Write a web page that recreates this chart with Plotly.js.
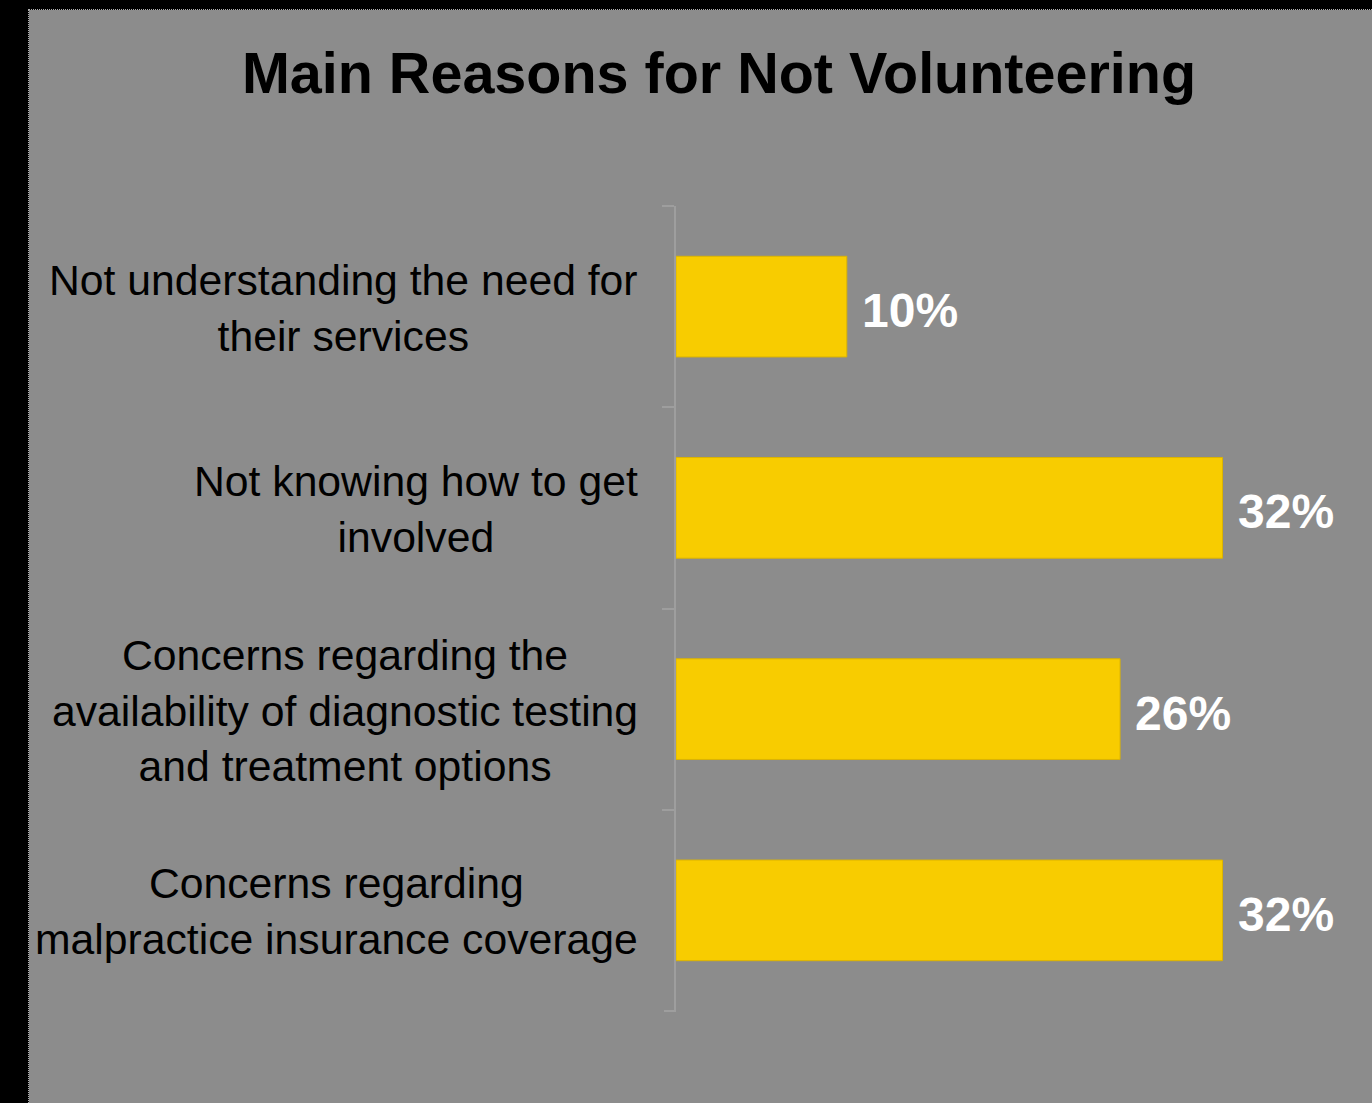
<!DOCTYPE html>
<html>
<head>
<meta charset="utf-8">
<script src="https://cdn.plot.ly/plotly-3.0.1.min.js"></script>
<style>
  html, body { margin: 0; padding: 0; background: #000; width: 1372px; height: 1103px; overflow: hidden; }
  #chart { position: absolute; left: 28px; top: 9px; width: 1344px; height: 1094px;
           border-left: 1px dotted #b0b0b0; border-top: 1px dotted #b0b0b0; box-sizing: border-box; }
</style>
</head>
<body>
<div id="chart"></div>
<script>
const categories = [
  "Not understanding the need for<br>their services",
  "Not knowing how to get<br>involved",
  "Concerns regarding the<br>availability of diagnostic testing<br>and treatment options",
  "Concerns regarding<br>malpractice insurance coverage"
];
const values = [10, 32, 26, 32];
const valueLabels = ["10%", "32%", "26%", "32%"];
const chartTitle = "Main Reasons for Not Volunteering";

const FONT = "Liberation Sans, Arial, sans-serif";
const keys = categories.map((c, i) => "c" + i);

const trace = {
  type: "bar",
  orientation: "h",
  x: values,
  y: keys,
  marker: { color: "#f8cc00", line: { color: "#dcb400", width: 1 } },
  hoverinfo: "skip"
};

const annotations = [];
categories.forEach((c, i) => {
  annotations.push({
    xref: "paper", x: 0, xshift: -36, xanchor: "right",
    yref: "y", y: keys[i], yanchor: "middle", yshift: -1,
    text: c, align: "center", showarrow: false,
    font: { family: FONT, size: 42.7, color: "#000" }
  });
  annotations.push({
    xref: "x", x: values[i], xshift: 13, xanchor: "left",
    yref: "y", y: keys[i], yanchor: "middle", yshift: -4,
    text: "<b>" + valueLabels[i] + "</b>", showarrow: false,
    font: { family: FONT, size: 48, color: "#fff" }
  });
});

const layout = {
  width: 1343, height: 1093,
  paper_bgcolor: "#8c8c8c", plot_bgcolor: "#8c8c8c",
  margin: { l: 647, r: 47, t: 196, b: 92 },
  title: {
    text: "<b>" + chartTitle + "</b>",
    xref: "container", x: 690 / 1343, xanchor: "center",
    yref: "container", y: 1 - 63 / 1093, yanchor: "middle",
    font: { family: FONT, size: 57.5, color: "#000" }
  },
  bargap: 0.5,
  showlegend: false,
  xaxis: { range: [0, 38], showgrid: false, zeroline: false, showline: false, showticklabels: false, ticks: "", fixedrange: true },
  yaxis: {
    autorange: "reversed", type: "category",
    showgrid: false, zeroline: false,
    showline: true, linecolor: "#9e9e9e", linewidth: 2,
    ticks: "outside", tickson: "boundaries", ticklen: 12, tickcolor: "#9e9e9e", tickwidth: 2,
    showticklabels: false, fixedrange: true
  },
  shapes: [{
    type: "line", xref: "paper", yref: "paper",
    x0: -12 / 649, x1: 0, y0: 0, y1: 0,
    line: { color: "#9e9e9e", width: 2 }
  }],
  annotations: annotations
};

Plotly.newPlot("chart", [trace], layout, { displayModeBar: false, staticPlot: true });
</script>
</body>
</html>
